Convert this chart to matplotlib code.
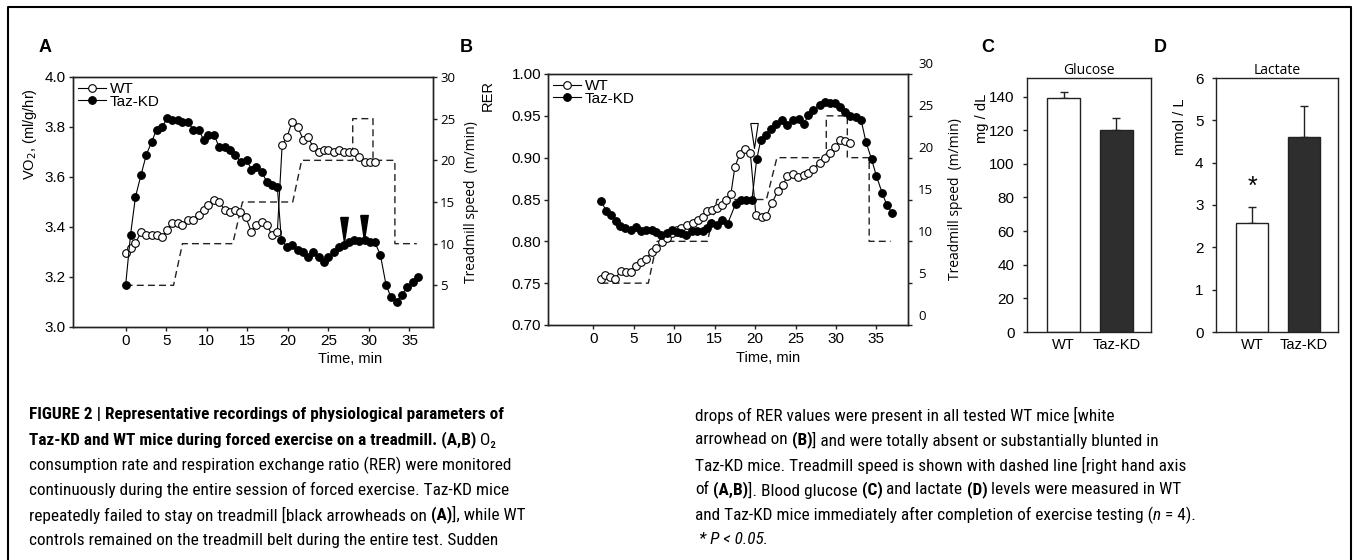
import matplotlib
matplotlib.use('Agg')
import numpy as np
import matplotlib.pyplot as plt
from matplotlib import font_manager
from matplotlib.lines import Line2D
import matplotlib.transforms as mtransforms

# ---- data ----
# panel A: VO2 (ml/g/hr) against time (min)
a_wt_t = [0.0, 0.65, 1.2, 1.9, 2.55, 3.2, 3.8, 4.5, 5.1, 5.75, 6.4, 7.0, 7.7, 8.3, 9.0, 9.6, 10.2,
          10.9, 11.5, 12.2, 12.9, 13.5, 14.1, 14.8, 15.5, 16.1, 16.8, 17.4, 18.0, 18.7, 19.3, 19.9,
          20.5, 21.2, 21.9, 22.5, 23.1, 23.8, 24.4, 25.0, 25.7, 26.3, 26.9, 27.6, 28.2, 28.8, 29.5,
          30.1, 30.7]
a_wt = [3.295, 3.315, 3.335, 3.38, 3.37, 3.37, 3.37, 3.36, 3.39, 3.415, 3.415, 3.41, 3.43, 3.43,
        3.45, 3.47, 3.49, 3.51, 3.50, 3.47, 3.46, 3.47, 3.46, 3.44, 3.38, 3.41, 3.42, 3.41, 3.37,
        3.38, 3.73, 3.76, 3.82, 3.80, 3.75, 3.76, 3.72, 3.70, 3.71, 3.71, 3.70, 3.71, 3.70, 3.70,
        3.70, 3.68, 3.66, 3.66, 3.66]
a_kd_t = [0.0, 0.6, 1.2, 1.9, 2.55, 3.2, 3.8, 4.5, 5.1, 5.75, 6.4, 7.0, 7.7, 8.3, 9.0, 9.6, 10.2,
          10.9, 11.5, 12.2, 12.9, 13.5, 14.2, 14.9, 15.5, 16.1, 16.8, 17.4, 18.0, 18.7, 19.2, 19.9,
          20.5, 21.2, 21.9, 22.5, 23.1, 23.8, 24.4, 25.0, 25.7, 26.3, 26.9, 27.6, 28.2, 28.8, 29.5,
          30.1, 30.7, 31.4, 32.1, 32.7, 33.4, 34.1, 34.7, 35.4, 36.0]
a_kd = [3.17, 3.37, 3.52, 3.61, 3.69, 3.74, 3.79, 3.80, 3.835, 3.83, 3.83, 3.82, 3.82, 3.79, 3.79,
        3.75, 3.77, 3.77, 3.72, 3.72, 3.71, 3.69, 3.66, 3.67, 3.63, 3.64, 3.62, 3.58, 3.57, 3.56,
        3.35, 3.32, 3.33, 3.31, 3.30, 3.28, 3.30, 3.28, 3.26, 3.28, 3.30, 3.32, 3.33, 3.34, 3.35,
        3.345, 3.35, 3.34, 3.34, 3.29, 3.17, 3.12, 3.10, 3.13, 3.16, 3.18, 3.20]
speed_a_t = [0.0, 5.9, 7.0, 13.2, 14.4, 20.6, 21.7, 28.0, 28.0, 30.5, 30.5, 33.2, 33.2, 35.9]
speed_a = [5, 5, 10, 10, 15, 15, 20, 20, 25, 25, 20, 20, 10, 10]
fall_t = [26.9, 29.4]          # black arrowheads (mouse left the belt)
fall_v = [3.34, 3.35]

# panel B: RER against time (min)
b_wt_t = [0.9, 1.5, 2.1, 2.7, 3.4, 4.0, 4.7, 5.3, 5.9, 6.5, 7.2, 7.8, 8.5, 9.1, 9.7, 10.3, 10.9,
          11.6, 12.3, 12.9, 13.5, 14.1, 14.7, 15.3, 15.9, 16.4, 17.0, 17.5, 18.1, 18.8, 19.4, 20.1,
          20.8, 21.4, 22.1, 22.8, 23.4, 24.0, 24.7, 25.3, 26.0, 26.6, 27.2, 28.0, 28.6, 29.3, 29.9,
          30.5, 31.1, 31.7]
b_wt = [0.755, 0.760, 0.757, 0.755, 0.765, 0.763, 0.763, 0.770, 0.775, 0.779, 0.787, 0.792, 0.799,
        0.804, 0.810, 0.813, 0.816, 0.819, 0.822, 0.826, 0.829, 0.836, 0.837, 0.840, 0.843, 0.849,
        0.856, 0.889, 0.904, 0.910, 0.906, 0.831, 0.829, 0.830, 0.846, 0.860, 0.867, 0.878, 0.881,
        0.877, 0.879, 0.882, 0.887, 0.894, 0.900, 0.906, 0.913, 0.921, 0.920, 0.917]
b_kd_t = [1.0, 1.6, 2.2, 2.8, 3.3, 3.9, 4.6, 5.3, 5.9, 6.5, 7.2, 7.8, 8.4, 9.1, 9.7, 10.3, 10.9,
          11.5, 12.2, 12.8, 13.5, 14.0, 14.6, 15.3, 15.9, 16.6, 17.6, 18.3, 18.9, 19.6, 20.2, 20.7,
          21.4, 22.0, 22.6, 23.3, 24.0, 24.7, 25.4, 26.0, 26.6, 27.2, 28.0, 28.6, 29.3, 29.9, 30.5,
          31.1, 31.7, 32.5, 33.1, 33.7, 34.4, 35.0, 35.7, 36.3, 36.95]
b_kd = [0.848, 0.836, 0.831, 0.824, 0.818, 0.816, 0.813, 0.817, 0.812, 0.813, 0.813, 0.811, 0.807,
        0.810, 0.813, 0.811, 0.810, 0.808, 0.812, 0.812, 0.812, 0.816, 0.822, 0.820, 0.825, 0.821,
        0.845, 0.849, 0.849, 0.849, 0.898, 0.921, 0.927, 0.934, 0.940, 0.945, 0.939, 0.945, 0.946,
        0.940, 0.951, 0.957, 0.963, 0.967, 0.965, 0.965, 0.960, 0.955, 0.950, 0.949, 0.945, 0.919,
        0.898, 0.878, 0.858, 0.843, 0.834]
speed_b_t = [1.0, 6.8, 7.9, 14.1, 15.3, 21.4, 22.7, 28.8, 28.8, 31.4, 31.4, 34.1, 34.1, 36.75]
speed_b = [5, 5, 10, 10, 15, 15, 20, 20, 25, 25, 20, 20, 10, 10]
drop_t = [19.9]                # white arrowhead
drop_v = [0.912]

# panels C and D: blood values after exercise
groups = ['WT', 'Taz-KD']
glucose = [139, 120]
glucose_err = [3.5, 7]
lactate = [2.57, 4.60]
lactate_err = [0.39, 0.73]
star_v = 3.43

speed_ticks_a = [5, 10, 15, 20, 25, 30]
speed_ticks_b = [0, 5, 10, 15, 20, 25, 30]
time_ticks = [0, 5, 10, 15, 20, 25, 30, 35]

# ---- figure ----
W, H = 1354, 560
fig = plt.figure(figsize=(W / 100, H / 100), dpi=100)
plt.rcParams['font.family'] = ['Liberation Sans', 'DejaVu Sans']
INK = '#222222'
ALT = ['Open Sans', 'DejaVu Sans']   # the right-hand axes use a humanist face
head = [(-0.15, 1), (0.15, 1), (0, 0), (-0.15, 1)]   # tip sits on the data point


def box(left, top, right, bottom):
    return [left / W, 1 - bottom / H, (right - left) / W, (bottom - top) / H]


def style(ax):
    for s in ax.spines.values():
        s.set_color(INK)
        s.set_linewidth(1)
    ax.tick_params(direction='out', length=3, width=1, color=INK, labelsize=11, pad=2)


def curves(ax, t_wt, v_wt, t_kd, v_kd):
    ax.plot(t_wt, v_wt, '-o', color='black', lw=0.8, ms=5.5, mfc='white', mec='black', mew=0.8,
            label='WT', zorder=3)
    ax.plot(t_kd, v_kd, '-o', color='black', lw=0.8, ms=5.5, mfc='black', mec='black', mew=0.8,
            label='Taz-KD', zorder=4)
    ax.legend(loc='upper left', bbox_to_anchor=(0.0, 1.0), frameon=False, fontsize=11,
              handlelength=1.8, handletextpad=0.25, labelspacing=-0.1, borderaxespad=0.1,
              borderpad=0.25)


# Panel A
axA = fig.add_axes(box(73, 77, 433, 327))
axA2 = axA.twinx()
axA.set_zorder(axA2.get_zorder() + 1)
axA.patch.set_visible(False)
axA2.plot(speed_a_t, speed_a, ls=(0, (5, 3)), color=INK, lw=1)
curves(axA, a_wt_t, a_wt, a_kd_t, a_kd)
axA.plot(fall_t, fall_v, ls='none', marker=head, ms=36, mfc='black', mec='black', zorder=5)
axA.set_xlim(-6.5, 37.9)
axA.set_ylim(3.0, 4.0)
axA.set_xticks(time_ticks)
axA.set_yticks(np.arange(3.0, 4.01, 0.2))
axA.yaxis.set_major_formatter(matplotlib.ticker.FormatStrFormatter('%.1f'))
axA.set_ylabel('VO$_2$, (ml/g/hr)', fontsize=10.5)
axA.yaxis.set_label_coords(-0.095, 0.77)
axA.set_xlabel('Time, min', fontsize=10.5)
axA.xaxis.set_label_coords(0.77, -0.1)
axA2.set_ylim(0, 30)
axA2.set_yticks(speed_ticks_a)
for ax in (axA, axA2):
    style(ax)
axA2.tick_params(labelsize=9.5, labelfontfamily='Open Sans')
axA2.set_ylabel('Treadmill speed  (m/min)', fontsize=10, family=ALT, labelpad=6)

# Panel B
axB = fig.add_axes(box(548, 74, 908, 325))
axB2 = axB.twinx()
axB.set_zorder(axB2.get_zorder() + 1)
axB.patch.set_visible(False)
axB2.plot(speed_b_t, speed_b, ls=(0, (5, 3)), color=INK, lw=1)
curves(axB, b_wt_t, b_wt, b_kd_t, b_kd)
axB.plot(drop_t, drop_v, ls='none', marker=head, ms=36, mfc='white', mec='black', mew=0.8, zorder=5)
axB.set_xlim(-5.6, 38.9)
axB.set_ylim(0.70, 1.00)
axB.set_xticks(time_ticks)
axB.set_yticks(np.arange(0.70, 1.001, 0.05))
axB.yaxis.set_major_formatter(matplotlib.ticker.FormatStrFormatter('%.2f'))
axB.set_ylabel('RER', fontsize=10.5)
axB.yaxis.set_label_coords(-0.147, 0.915)
axB.set_xlabel('Time, min', fontsize=10.5)
axB.xaxis.set_label_coords(0.61, -0.105)
axB2.set_ylim(0, 30)
axB2.set_yticks(speed_ticks_b)
axB2.set_yticklabels([])
for ax in (axB, axB2):
    style(ax)
# the tick labels of this axis sit a little above their ticks in the original
lab_tr = mtransforms.blended_transform_factory(axB2.transAxes, axB2.transData) + \
    mtransforms.ScaledTranslation(0.1, 0.09, fig.dpi_scale_trans)
for v in speed_ticks_b:
    axB2.text(1.0, v, str(v), transform=lab_tr, fontsize=9.5, family=ALT, va='center', ha='left',
              clip_on=False)
axB2.set_ylabel('Treadmill speed  (m/min)', fontsize=10, family=ALT, labelpad=24)


# Panels C and D
def bars(ax, vals, errs, top, ticks, title, ylabel, ylab_xy):
    x = np.arange(len(groups))
    ax.bar(x, vals, width=0.62, color=['white', '#2e2e2e'], edgecolor=INK, linewidth=1, zorder=2)
    ax.errorbar(x, vals, yerr=[[0] * len(errs), errs], fmt='none', ecolor=INK, elinewidth=1,
                capsize=3, capthick=1, zorder=1)
    ax.set_xlim(-0.7, 1.66)
    ax.set_ylim(0, top)
    ax.set_yticks(ticks)
    ax.set_xticks(x)
    ax.set_xticklabels(groups)
    style(ax)
    ax.tick_params(axis='y', pad=6)
    ax.tick_params(axis='x', length=0, pad=4, labelsize=10.5)
    ax.set_title(title, fontsize=10, family=ALT, pad=3)
    ax.set_ylabel(ylabel, fontsize=10.5)
    ax.yaxis.set_label_coords(*ylab_xy)


axC = fig.add_axes(box(1027, 78, 1151, 332))
bars(axC, glucose, glucose_err, 151, np.arange(0, 141, 20), 'Glucose', 'mg / dL', (-0.31, 0.84))
axD = fig.add_axes(box(1216, 78, 1338, 332))
bars(axD, lactate, lactate_err, 6, np.arange(0, 7, 1), 'Lactate', 'mmol / L', (-0.24, 0.81))
axD.text(0, star_v, '*', ha='center', va='center', fontsize=18)

# panel letters
for letter, px in zip('ABCD', [45, 466, 988, 1160]):
    fig.text(px / W, 1 - 47 / H, letter, fontsize=13, fontweight='bold', ha='center', va='center')

# frame around the figure
fig.add_artist(Line2D([8 / W, 8 / W, 1351 / W, 1351 / W], [0, 1 - 7 / H, 1 - 7 / H, 0],
                      transform=fig.transFigure, color='black', lw=1.5))

# ---- caption ----
names = {f.name for f in font_manager.fontManager.ttflist}
cap_font = next((n for n in ['Liberation Sans Narrow', 'Roboto Condensed', 'Liberation Sans']
                 if n in names), 'DejaVu Sans')
cap_fam = [cap_font, 'DejaVu Sans']
renderer = fig.canvas.get_renderer()

B, R, I = 'bold', 'normal', 'italic'
left_lines = [
    [("FIGURE 2 | Representative recordings of physiological parameters of", B)],
    [("Taz-KD and WT mice during forced exercise on a treadmill. (A,B)", B), (" O\u2082", R)],
    [("consumption rate and respiration exchange ratio (RER) were monitored", R)],
    [("continuously during the entire session of forced exercise. Taz-KD mice", R)],
    [("repeatedly failed to stay on treadmill [black arrowheads on ", R), ("(A)", B),
     ("], while WT", R)],
    [("controls remained on the treadmill belt during the entire test. Sudden", R)],
]
right_lines = [
    [("drops of RER values were present in all tested WT mice [white", R)],
    [("arrowhead on ", R), ("(B)", B), ("] and were totally absent or substantially blunted in", R)],
    [("Taz-KD mice. Treadmill speed is shown with dashed line [right hand axis", R)],
    [("of ", R), ("(A,B)", B), ("]. Blood glucose ", R), ("(C)", B), (" and lactate ", R),
     ("(D)", B), (" levels were measured in WT", R)],
    [("and Taz-KD mice immediately after completion of exercise testing (", R), ("n", I),
     (" = 4).", R)],
    [(" * P < 0.05.", I)],
]


def props(kind, size):
    return dict(fontsize=size, family=cap_fam, fontweight='bold' if kind == B else 'normal',
                fontstyle='italic' if kind == I else 'normal')


def width(s, kind, size):
    t = fig.text(0, 0, s, **props(kind, size))
    w = t.get_window_extent(renderer).width
    t.remove()
    return w


def put_line(x, y, runs, size):
    for s, kind in runs:
        sp = width('n n', kind, size) - width('nn', kind, size)
        core = s.strip(' ')
        x += sp * (len(s) - len(s.lstrip(' ')))
        if core:
            t = fig.text(x / W, 1 - y / H, core, va='center', ha='left', **props(kind, size))
            x += t.get_window_extent(renderer).width
        x += sp * (len(s) - len(s.rstrip(' ')))


cap_size = 10 * 472 / width(left_lines[0][0][0], B, 10)
for i, runs in enumerate(left_lines):
    put_line(29, 415 + 25 * i, runs, cap_size)
for i, runs in enumerate(right_lines):
    put_line(695, 415 + 25 * i, runs, cap_size)

fig.savefig('out.png', dpi=100)
